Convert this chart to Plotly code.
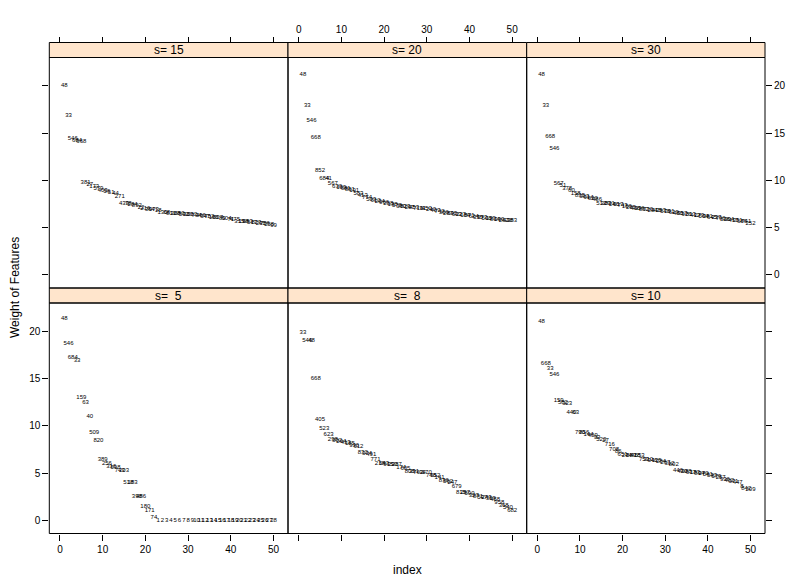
import plotly.graph_objects as go

# ---------------- data ----------------
index = list(range(1, 51))

s5_labels = ["48","546","684","33","159","63","40","509","820","389","256","316","598","743","203",
             "518","183","398","486","180","171","74","1","2","3","4","5","6","7","8","9","10","11",
             "12","13","14","15","16","17","18","19","20","21","22","23","24","25","26","27","28"]
s5_vals = [21.4,18.7,17.2,16.9,12.95,12.5,11.0,9.35,8.45,6.4,6.05,5.75,5.6,5.3,5.25,
           4.0,4.0,2.5,2.5,1.5,1.0,0.3,0,0,0,0,0,0,0,0,0,0,0,
           0,0,0,0,0,0,0,0,0,0,0,0,0,0,0,0,0]

s8_labels = ["33","546","48","668","405","523","623","298","302","264","413","185","936","612","832",
             "374","491","771","218","643","915","390","287","174","605","808","331","762","94","170",
             "748","552","141","836","562","247","679","815","267","590","327","871","597","243","359",
             "458","958","368","540","682"]
s8_vals = [19.9,19.0,19.0,15.0,10.65,9.7,9.07,8.6,8.5,8.35,8.2,8.1,7.95,7.8,7.15,
           7.1,7.0,6.4,6.0,5.97,5.95,5.92,5.9,5.6,5.5,5.2,5.15,5.1,5.1,5.05,
           4.8,4.7,4.5,4.2,4.1,4.0,3.6,2.95,2.9,2.85,2.6,2.5,2.45,2.4,2.35,
           2.25,1.85,1.6,1.4,1.05]

s10_labels = ["48","668","33","546","159","582","323","440","63","790","856","144","409","93","520",
              "27","716","708","86","651","234","889","418","553","759","310","346","125","284","267",
              "312","802","446","420","988","617","183","894","270","561","533","579","257","936","402",
              "371","447","8","842","209"]
s10_vals = [21.0,16.65,16.1,15.4,12.7,12.45,12.35,11.4,11.4,9.3,9.25,9.1,9.0,8.8,8.6,
            8.5,8.0,7.5,7.3,7.0,6.9,6.9,6.85,6.85,6.4,6.4,6.35,6.3,6.2,6.1,
            6.0,5.9,5.3,5.2,5.15,5.1,5.05,5.0,4.95,4.9,4.8,4.65,4.5,4.35,4.2,
            4.1,4.0,3.6,3.4,3.3]

s15_labels = ["48","33","546","684","668","381","27","173","579","403","56","51","44","271","439",
              "78","284","892","22","216","364","973","18","130","68","811","308","680","592","380",
              "262","734","466","347","752","158","827","89","604","71","475","315","198","663","517",
              "823","295","786","258","99"]
s15_vals = [20.0,16.9,14.4,14.2,14.1,9.8,9.6,9.3,9.1,8.95,8.85,8.75,8.6,8.3,7.6,
            7.5,7.4,7.3,7.15,7.05,6.95,6.9,6.8,6.6,6.55,6.5,6.48,6.45,6.42,6.4,
            6.38,6.3,6.25,6.2,6.15,6.1,6.05,6.0,5.95,5.9,5.85,5.7,5.65,5.6,5.55,
            5.5,5.45,5.4,5.3,5.25]

s20_labels = ["48","33","546","668","852","684","41","567","630","159","681","851","191","583","413",
              "774","509","612","234","966","258","138","578","360","823","297","453","716","31","450",
              "240","407","742","356","287","695","603","227","184","871","624","335","973","508","129",
              "814","390","262","438","383"]
s20_vals = [21.2,17.9,16.3,14.5,11.0,10.25,10.15,9.65,9.3,9.2,9.1,9.0,8.9,8.6,8.4,
            8.2,8.0,7.9,7.8,7.7,7.6,7.4,7.3,7.25,7.2,7.15,7.1,7.05,7.0,7.0,
            6.9,6.8,6.7,6.6,6.5,6.45,6.4,6.35,6.3,6.3,6.2,6.1,6.05,6.0,5.95,
            5.9,5.85,5.8,5.8,5.75]

s30_labels = ["48","33","668","546","567","51","378","60","158","835","303","914","620","486","512",
              "309","831","246","517","743","156","285","408","936","852","730","294","415","363","578",
              "201","629","480","357","926","813","412","279","504","381","645","237","796","528","904",
              "417","351","686","741","252"]
s30_vals = [21.2,17.9,14.6,13.4,9.7,9.45,9.1,8.9,8.6,8.45,8.3,8.2,8.1,8.0,7.6,
            7.55,7.5,7.45,7.4,7.35,7.2,7.1,7.05,7.0,6.95,6.9,6.85,6.8,6.8,6.75,
            6.7,6.6,6.5,6.45,6.4,6.35,6.3,6.25,6.2,6.15,6.1,6.05,6.0,5.9,5.85,
            5.8,5.75,5.7,5.65,5.45]

panel_titles = ["s= 15", "s= 20", "s= 30", "s=\u00a0 5", "s=\u00a0 8", "s= 10"]
x_ticks = [0, 10, 20, 30, 40, 50]
y_ticks = [0, 5, 10, 15, 20]

# ---------------- layout geometry (pixels, in window coordinates) ----------------
OFF = 8  # default page body margin
W, H = 806 - OFF, 586 - OFF
col_px = [(49.3, 288.0), (288.0, 526.7), (526.7, 765.0)]
# (strip_top, strip_bottom, panel_bottom)
row_px = [(42.5, 57.5, 288.0), (288.0, 303.0, 533.5)]
XR = [-2.5, 53.4]
YR = [-1.39, 23.0]

def fx(p):
    return (p - OFF) / W

def fy(p):
    return 1 - (p - OFF) / H

panels = [
    (s15_labels, s15_vals), (s20_labels, s20_vals), (s30_labels, s30_vals),
    (s5_labels, s5_vals), (s8_labels, s8_vals), (s10_labels, s10_vals),
]

FONT = "Liberation Sans, Arial, Helvetica, sans-serif"
fig = go.Figure()
shapes = []
annotations = []
layout_axes = {}

for k, (labs, vals) in enumerate(panels):
    r, c = divmod(k, 3)
    n = k + 1
    xa = "x" if n == 1 else f"x{n}"
    ya = "y" if n == 1 else f"y{n}"
    xkey = "xaxis" if n == 1 else f"xaxis{n}"
    ykey = "yaxis" if n == 1 else f"yaxis{n}"
    x0, x1 = col_px[c]
    st, sb, pb = row_px[r]

    fig.add_trace(go.Scatter(
        x=index, y=vals, text=labs, mode="text",
        textposition="middle center",
        textfont=dict(size=6, color="#000000", family=FONT),
        xaxis=xa, yaxis=ya, showlegend=False, hoverinfo="text",
    ))

    xdict = dict(
        domain=[fx(x0), fx(x1)], range=XR, tickvals=x_ticks,
        ticks="outside", ticklen=6, tickcolor="#000000", tickwidth=1,
        showgrid=False, zeroline=False, showline=False,
        tickfont=dict(size=10, color="#000000", family=FONT),
    )
    if r == 0:
        xdict.update(anchor="free", position=fy(st), side="top",
                     showticklabels=(c == 1))
    else:
        xdict.update(anchor=ya, side="bottom", showticklabels=(c != 1))
    layout_axes[xkey] = xdict

    ydict = dict(
        domain=[fy(pb), fy(sb)], range=YR, tickvals=y_ticks,
        anchor=xa, showgrid=False, zeroline=False, showline=False,
        tickcolor="#000000", tickwidth=1, ticklen=6,
        tickfont=dict(size=10, color="#000000", family=FONT),
    )
    if c == 0:
        ydict.update(side="left", ticks="outside", showticklabels=(r == 1))
    elif c == 2:
        ydict.update(side="right", ticks="outside", showticklabels=(r == 0))
    else:
        ydict.update(ticks="", showticklabels=False)
    layout_axes[ykey] = ydict

    # strip
    shapes.append(dict(type="rect", xref="paper", yref="paper",
                       x0=fx(x0), x1=fx(x1), y0=fy(sb), y1=fy(st),
                       fillcolor="#FFE5CC", line=dict(color="#000000", width=1),
                       layer="below"))
    # panel border
    shapes.append(dict(type="rect", xref="paper", yref="paper",
                       x0=fx(x0), x1=fx(x1), y0=fy(pb), y1=fy(sb),
                       fillcolor="rgba(0,0,0,0)", line=dict(color="#000000", width=1),
                       layer="above"))
    annotations.append(dict(text=panel_titles[k], xref="paper", yref="paper",
                            x=fx((x0 + x1) / 2), y=fy((st + sb) / 2),
                            xanchor="center", yanchor="middle", showarrow=False,
                            font=dict(size=12, color="#000000", family=FONT)))

annotations.append(dict(text="index", xref="paper", yref="paper",
                        x=fx((col_px[0][0] + col_px[2][1]) / 2), y=fy(570),
                        xanchor="center", yanchor="middle", showarrow=False,
                        font=dict(size=12, color="#000000", family=FONT)))
annotations.append(dict(text="Weight of Features", xref="paper", yref="paper",
                        x=fx(15), y=fy((row_px[0][0] + row_px[1][2]) / 2),
                        xanchor="center", yanchor="middle", showarrow=False, textangle=-90,
                        font=dict(size=12, color="#000000", family=FONT)))

fig.update_layout(
    width=W, height=H,
    margin=dict(l=0, r=0, t=0, b=0),
    paper_bgcolor="white", plot_bgcolor="white",
    shapes=shapes, annotations=annotations,
    **layout_axes,
)

fig.write_html("out.html")
